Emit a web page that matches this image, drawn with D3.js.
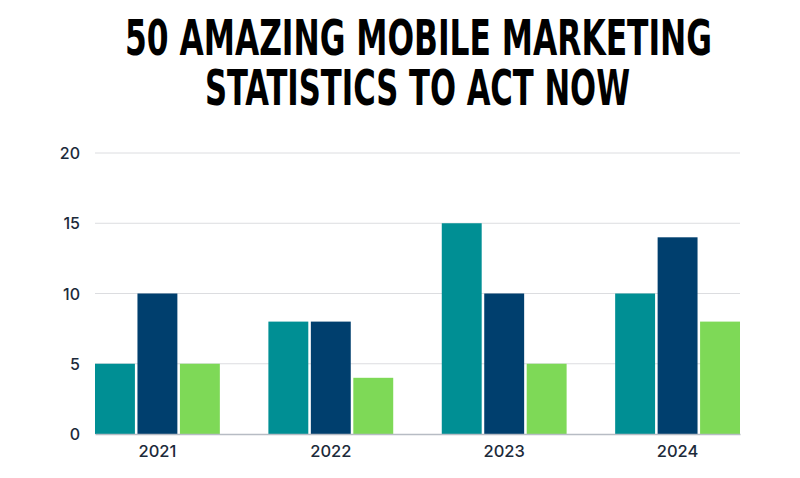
<!DOCTYPE html>
<html><head><meta charset="utf-8">
<script src="https://cdn.jsdelivr.net/npm/d3@7"></script>
<style>body{margin:0;background:#fff}svg{display:block}</style>
</head><body>
<svg id="chart" width="800" height="478"></svg>
<script>
const titleLines = ["50 AMAZING MOBILE MARKETING", "STATISTICS TO ACT NOW"];
const categories = ["2021", "2022", "2023", "2024"];
const seriesNames = ["Series 1", "Series 2", "Series 3"];
const series1 = [5, 8, 15, 10];
const series2 = [10, 8, 10, 14];
const series3 = [5, 4, 5, 8];
const yTicks = [0, 5, 10, 15, 20];
const colors = ["#008f94", "#003f6e", "#7ed957"];

const svg = d3.select("#chart");
svg.append("rect").attr("width", 800).attr("height", 478).attr("fill", "#fff");

// Title (one text element, two lines)
const sy = 1.36;
const titleSpecs = [{y: 55, x0: 125, x1: 712}, {y: 105, x0: 205, x1: 630}];
const title = svg.append("text")
  .attr("transform", `scale(1,${sy})`)
  .attr("text-anchor", "middle")
  .attr("font-family", "'DejaVu Sans Condensed', 'Liberation Sans Narrow', sans-serif")
  .attr("font-weight", "bold")
  .attr("font-size", 36)
  .attr("fill", "#000");
titleLines.forEach((t, i) => {
  const s = titleSpecs[i];
  title.append("tspan")
    .attr("x", (s.x0 + s.x1) / 2).attr("y", s.y / sy)
    .attr("textLength", s.x1 - s.x0)
    .attr("lengthAdjust", "spacingAndGlyphs")
    .text(t);
});

const mL = 95, mR = 740, mT = 153, mB = 434;
const x = d3.scaleBand().domain(categories).range([mL, mR]).paddingInner(0.28).paddingOuter(0);
const xi = d3.scaleBand().domain(seriesNames).range([0, x.bandwidth()]).paddingInner(0.06);
const y = d3.scaleLinear().domain([0, 20]).range([mB, mT]);

// grid
svg.append("g").selectAll("line").data(yTicks.filter(d => d > 0)).join("line")
  .attr("x1", mL).attr("x2", mR)
  .attr("y1", d => y(d)).attr("y2", d => y(d))
  .attr("stroke", "#dcdde0").attr("stroke-width", 1);

// y labels
const yAxis = d3.axisLeft(y).tickValues(yTicks).tickSize(0).tickPadding(0);
const yg = svg.append("g").attr("transform", `translate(${mL - 15},0)`).call(yAxis);
yg.select(".domain").remove();
yg.selectAll("text").attr("font-family", "Inter, 'Noto Sans', sans-serif")
  .attr("font-size", 16).attr("font-weight", 500).attr("fill", "#1c2a3a").attr("dy", "0.35em");

// bars
const data = categories.map((c, i) => ({cat: c, vals: [series1[i], series2[i], series3[i]]}));
const groups = svg.append("g").selectAll("g").data(data).join("g")
  .attr("transform", d => `translate(${x(d.cat)},0)`);
groups.selectAll("rect").data(d => d.vals.map((v, j) => ({v, s: seriesNames[j], j}))).join("rect")
  .attr("x", d => xi(d.s)).attr("width", xi.bandwidth())
  .attr("y", d => y(d.v)).attr("height", d => y(0) - y(d.v))
  .attr("fill", d => colors[d.j]);

// x axis
const xAxis = d3.axisBottom(x).tickSize(0).tickPadding(11);
const xg = svg.append("g").attr("transform", `translate(0,${mB})`).call(xAxis);
xg.select(".domain").attr("stroke", "#b7bcc4").attr("stroke-width", 1.5);
xg.selectAll("text").attr("font-family", "Inter, 'Noto Sans', sans-serif")
  .attr("font-size", 16.5).attr("font-weight", 500).attr("fill", "#1c2a3a");
</script>
</body></html>
